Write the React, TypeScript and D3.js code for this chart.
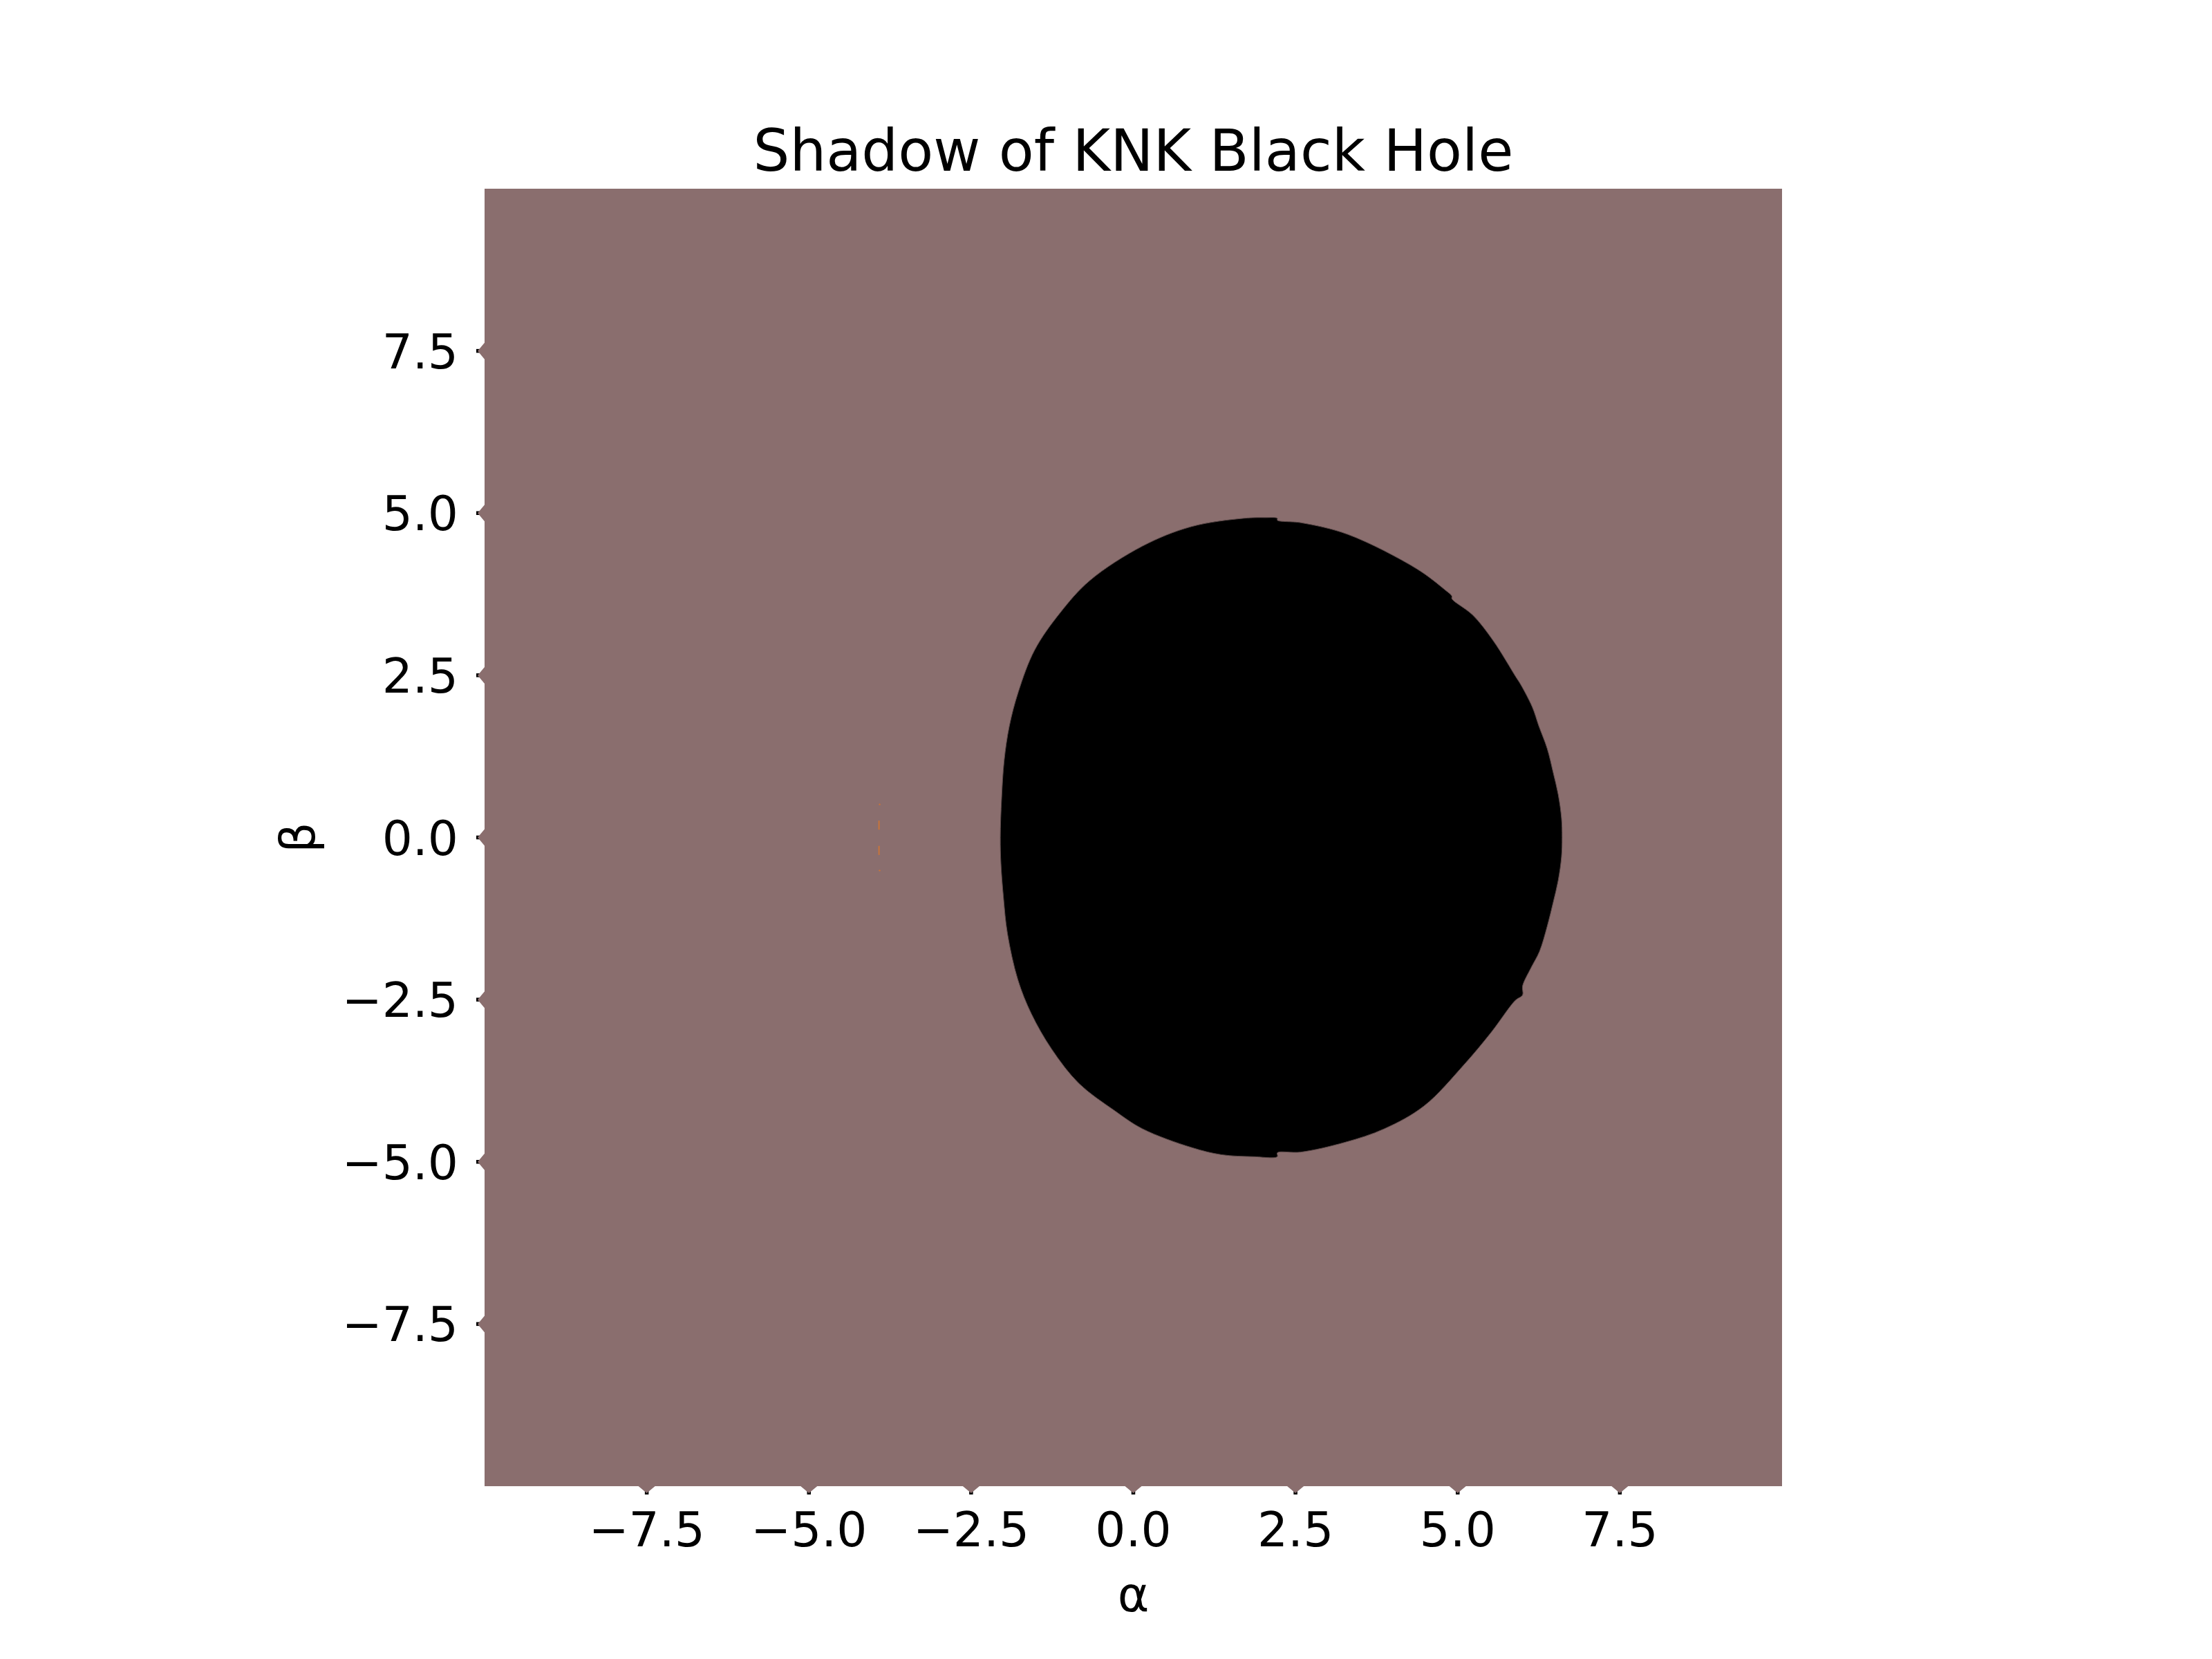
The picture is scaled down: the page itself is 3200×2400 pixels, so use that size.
import React from 'react';
import * as d3 from 'd3';

// ---- data ----
const xTicks = [-7.5, -5, -2.5, 0, 2.5, 5, 7.5];
const yTicks = [-7.5, -5, -2.5, 0, 2.5, 5, 7.5];
const alphaDomain: [number, number] = [-10, 10];
const betaDomain: [number, number] = [-10, 10];

// shadow boundary (alpha, beta), closed contour
const shadowBoundary: [number, number][] = [
  [-2.05, 0.0], [-2.03, 0.6], [-1.99, 1.19], [-1.91, 1.72], [-1.77, 2.25], [-1.52, 2.89],
  [-1.13, 3.46], [-0.67, 3.96], [0.14, 4.49], [0.89, 4.79], [1.71, 4.92],
  [2.03, 4.93], [2.22, 4.92], [2.22, 4.89], [2.59, 4.85], [3.31, 4.67],
  [4.37, 4.14], [4.80, 3.82], [4.91, 3.72], [4.91, 3.68], [5.23, 3.43],
  [5.55, 3.03], [5.90, 2.47], [5.97, 2.36], [6.15, 2.01], [6.25, 1.72],
  [6.38, 1.37], [6.47, 1.01], [6.55, 0.66], [6.60, 0.30], [6.61, 0.0], [6.60, -0.30],
  [6.55, -0.66], [6.47, -1.01], [6.38, -1.37], [6.26, -1.76], [6.13, -2.01],
  [6.00, -2.29], [6.00, -2.43], [5.89, -2.51], [5.52, -3.00], [5.10, -3.50],
  [4.48, -4.14], [3.87, -4.49], [3.26, -4.70], [2.58, -4.85], [2.22, -4.86],
  [2.22, -4.92], [1.85, -4.92], [1.36, -4.89], [0.90, -4.78], [0.14, -4.49],
  [-0.29, -4.21], [-0.84, -3.79], [-1.26, -3.26], [-1.57, -2.72], [-1.78, -2.19],
  [-1.94, -1.48], [-2.00, -0.94], [-2.04, -0.41],
];

// small contour artifacts near alpha = -3.9
const artifactSegments: [number, number][][] = [
  [[-3.92, 0.26], [-3.92, 0.12]],
  [[-3.92, -0.13], [-3.92, -0.27]],
];
const artifactDots: [number, number][] = [[-3.91, 0.51], [-3.91, -0.51]];

const titleText = 'Shadow of KNK Black Hole';
const xLabel = 'α';
const yLabel = 'β';

// ---- layout ----
const W = 3200;
const H = 2400;
const left = 701;
const right = 2578;
const top = 273;
const bottom = 2150;
const bg = '#8a6e6e';
const font = 'DejaVu Sans, sans-serif';

export default function App() {
  const x = d3.scaleLinear().domain(alphaDomain).range([left, right]);
  const y = d3.scaleLinear().domain(betaDomain).range([bottom, top]);
  const fmt = (v: number) => d3.format('.1f')(v).replace('-', '\u2212');

  const area = d3
    .line<[number, number]>()
    .x((d) => x(d[0]))
    .y((d) => y(d[1]))
    .curve(d3.curveCatmullRomClosed.alpha(0.5));

  const seg = d3
    .line<[number, number]>()
    .x((d) => x(d[0]))
    .y((d) => y(d[1]));

  const tickLen = 12;
  const triH = 10;
  const triW = 24;

  return (
    <svg
      width={W}
      height={H}
      style={{ position: 'absolute', left: 0, top: 0, background: '#fff' }}
      fontFamily={font}
    >
      <rect x={0} y={0} width={W} height={H} fill="#ffffff" />
      {/* ticks (black) */}
      {xTicks.map((t) => (
        <line key={'xt' + t} x1={x(t)} x2={x(t)} y1={bottom} y2={bottom + tickLen} stroke="#000" strokeWidth={5.5} />
      ))}
      {yTicks.map((t) => (
        <line key={'yt' + t} x1={left} x2={left - tickLen} y1={y(t)} y2={y(t)} stroke="#000" strokeWidth={5.5} />
      ))}
      {/* filled background level */}
      <rect x={x(alphaDomain[0])} y={y(betaDomain[1])} width={x(alphaDomain[1]) - x(alphaDomain[0])} height={y(betaDomain[0]) - y(betaDomain[1])} fill={bg} />
      {/* brown bumps over ticks */}
      {xTicks.map((t) => (
        <path key={'xb' + t} d={`M${x(t) - triW / 2},${bottom} L${x(t)},${bottom + triH} L${x(t) + triW / 2},${bottom} Z`} fill={bg} />
      ))}
      {yTicks.map((t) => (
        <path key={'yb' + t} d={`M${left},${y(t) - triW / 2} L${left - triH},${y(t)} L${left},${y(t) + triW / 2} Z`} fill={bg} />
      ))}
      {/* shadow */}
      <path d={area(shadowBoundary) || ''} fill="#000" stroke="#5a4848" strokeWidth={1} />
      {/* artifacts */}
      {artifactSegments.map((s, i) => (
        <path key={'as' + i} d={seg(s) || ''} stroke="#c8743a" strokeWidth={2} fill="none" />
      ))}
      {artifactDots.map((p, i) => (
        <circle key={'ad' + i} cx={x(p[0])} cy={y(p[1])} r={1.2} fill="#c8743a" />
      ))}
      {/* tick labels */}
      {xTicks.map((t) => (
        <text key={'xl' + t} x={x(t)} y={2237} textAnchor="middle" fontSize={69.4} fill="#000">
          {fmt(t)}
        </text>
      ))}
      {yTicks.map((t) => (
        <text key={'yl' + t} x={663} y={y(t) + 25} textAnchor="end" fontSize={69.4} fill="#000">
          {fmt(t)}
        </text>
      ))}
      {/* axis labels */}
      <text x={(left + right) / 2} y={2331} textAnchor="middle" fontSize={69.4} fill="#000">
        {xLabel}
      </text>
      <text transform={`translate(455,${(top + bottom) / 2}) rotate(-90)`} textAnchor="middle" fontSize={69.4} fill="#000">
        {yLabel}
      </text>
      {/* title */}
      <text x={(left + right) / 2} y={247} textAnchor="middle" fontSize={83.3} fill="#000">
        {titleText}
      </text>
    </svg>
  );
}
